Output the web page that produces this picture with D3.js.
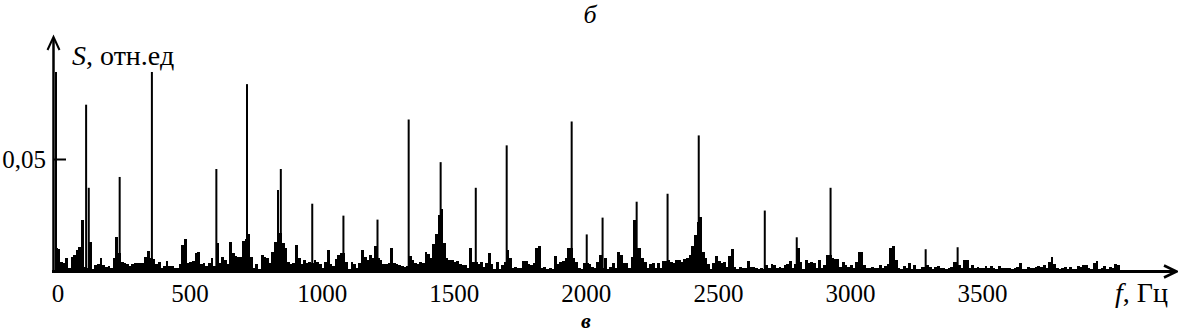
<!DOCTYPE html>
<html>
<head>
<meta charset="UTF-8">
<title>Спектр</title>
<script src="https://d3js.org/d3.v7.min.js"></script>
<style>
  body { margin: 0; background: #fff; }
  text { font-family: "Liberation Serif", "DejaVu Serif", serif; fill: #000; }
</style>
</head>
<body>
<div id="chart"></div>
<script>
// noise floor, one value per 10 Hz bin starting at 0 Hz
const floorStep = 10;
const floorValues = [
  .0099,.0095,.0036,.0032,.0054,.0010,.0059,.0068,.0090,.0104,
  .0225,.0015,.0010,.0126,.0005,.0023,.0027,.0054,.0023,.0014,
  .0020,.0009,.0054,.0149,.0077,.0036,.0030,.0027,.0020,.0025,
  .0030,.0032,.0032,.0030,.0059,.0086,.0054,.0050,.0027,.0034,
  .0009,.0020,.0041,.0018,.0018,.0009,.0009,.0027,.0113,.0140,
  .0032,.0036,.0041,.0077,.0081,.0025,.0030,.0020,.0030,.0054,
  .0020,.0122,.0030,.0059,.0045,.0027,.0126,.0077,.0063,.0059,
  .0059,.0131,.0140,.0162,.0059,.0009,.0027,.0005,.0068,.0060,
  .0054,.0032,.0081,.0126,.0360,.0167,.0120,.0099,.0036,.0027,
  .0030,.0113,.0054,.0025,.0045,.0030,.0036,.0030,.0045,.0036,
  .0027,.0009,.0036,.0090,.0025,.0020,.0050,.0068,.0077,.0077,
  .0036,.0005,.0036,.0025,.0009,.0030,.0090,.0059,.0045,.0068,
  .0054,.0108,.0054,.0045,.0025,.0025,.0032,.0099,.0030,.0025,
  .0023,.0018,.0014,.0020,.0063,.0045,.0030,.0027,.0036,.0030,
  .0081,.0072,.0054,.0117,.0162,.0250,.0275,.0122,.0054,.0045,
  .0045,.0036,.0041,.0025,.0023,.0023,.0009,.0099,.0036,.0036,
  .0026,.0038,.0015,.0030,.0075,.0026,.0003,.0038,.0003,.0023,
  .0038,.0090,.0056,.0008,.0015,.0011,.0008,.0041,.0041,.0026,
  .0023,.0030,.0100,.0110,.0008,.0015,.0003,.0011,.0003,.0063,
  .0026,.0038,.0041,.0056,.0098,.0098,.0056,.0038,.0008,.0003,
  .0030,.0030,.0026,.0015,.0011,.0038,.0068,.0008,.0056,.0003,
  .0015,.0030,.0008,.0083,.0068,.0030,.0030,.0008,.0060,.0225,
  .0098,.0098,.0056,.0038,.0008,.0026,.0030,.0011,.0030,.0008,
  .0041,.0041,.0045,.0038,.0030,.0045,.0045,.0038,.0049,.0056,
  .0068,.0110,.0160,.0218,.0240,.0083,.0053,.0026,.0003,.0030,
  .0064,.0041,.0030,.0038,.0015,.0064,.0094,.0015,.0003,.0015,
  .0011,.0008,.0041,.0015,.0015,.0008,.0003,.0011,.0003,.0023,
  .0008,.0026,.0023,.0008,.0015,.0011,.0023,.0026,.0041,.0011,
  .0026,.0098,.0038,.0003,.0045,.0030,.0038,.0030,.0011,.0045,
  .0011,.0023,.0068,.0070,.0056,.0049,.0049,.0015,.0038,.0023,
  .0015,.0023,.0011,.0038,.0083,.0083,.0023,.0008,.0011,.0015,
  .0011,.0008,.0023,.0011,.0020,.0026,.0098,.0110,.0045,.0011,
  .0003,.0020,.0011,.0030,.0003,.0023,.0003,.0006,.0015,.0015,
  .0023,.0015,.0006,.0015,.0020,.0011,.0008,.0003,.0008,.0015,
  .0038,.0038,.0023,.0008,.0045,.0045,.0008,.0023,.0011,.0015,
  .0008,.0011,.0020,.0008,.0020,.0008,.0003,.0020,.0008,.0011,
  .0011,.0008,.0006,.0011,.0015,.0030,.0006,.0003,.0015,.0008,
  .0011,.0015,.0020,.0015,.0023,.0008,.0038,.0060,.0026,.0008,
  .0003,.0011,.0015,.0006,.0015,.0003,.0003,.0020,.0015,.0023,
  .0023,.0011,.0006,.0030,.0040,.0003,.0011,.0020,.0006,.0015,
  .0011,.0026,.0023
];

// discrete spectral lines
const peakFreqs  = [0, 114, 124, 241, 363, 607, 723, 851, 970, 1088, 1217, 1335, 1456,
                    1589, 1706, 1952, 2009, 2069, 2198, 2315, 2433, 2683, 2804, 2932, 3292, 3413];
const peakValues = [.0896, .0748, .0372, .0421, .0896, .0457, .0841, .0457, .0300, .0246, .0228, .0681, .0488,
                    .0372, .0564, .0672, .0161, .0237, .0309, .0345, .0609, .0269, .0148, .0372, .0094, .0103];

const xTicks = [0, 500, 1000, 1500, 2000, 2500, 3000, 3500];
const yTicks = [0.05];
const yTickLabels = ["0,05"];

const width = 1178;
const height = 335;

const x = d3.scaleLinear().domain([0, 4000]).range([56, 1112.7]);
const y = d3.scaleLinear().domain([0, 0.05]).range([270, 159.5]);

const svg = d3.select("#chart")
  .append("svg")
  .attr("width", width)
  .attr("height", height);

// noise floor
const binW = x(floorStep) - x(0);
svg.append("g")
  .attr("shape-rendering", "crispEdges")
  .selectAll("rect")
  .data(floorValues)
  .enter()
  .append("rect")
  .attr("x", (d, i) => x(i * floorStep) - binW / 2)
  .attr("width", binW + 0.2)
  .attr("y", d => y(d))
  .attr("height", d => y(0) - y(d))
  .attr("fill", "#000");

// spectral lines
svg.append("g")
  .selectAll("rect")
  .data(peakFreqs)
  .enter()
  .append("rect")
  .attr("x", d => x(d) - 1)
  .attr("width", 2)
  .attr("y", (d, i) => y(peakValues[i]))
  .attr("height", (d, i) => y(0) - y(peakValues[i]))
  .attr("fill", "#000");

// axes
svg.append("line")
  .attr("x1", 53.5).attr("x2", 53.5)
  .attr("y1", 272).attr("y2", 38)
  .attr("stroke", "#000").attr("stroke-width", 2.5);
svg.append("path")
  .attr("d", "M47.5,50 L53.5,37 L59.5,50")
  .attr("fill", "none").attr("stroke", "#000").attr("stroke-width", 2);

svg.append("line")
  .attr("x1", 52).attr("x2", 1175)
  .attr("y1", 271.5).attr("y2", 271.5)
  .attr("stroke", "#000").attr("stroke-width", 3);
svg.append("path")
  .attr("d", "M1164,265.5 L1176.5,271.5 L1164,277.5")
  .attr("fill", "none").attr("stroke", "#000").attr("stroke-width", 2.5);

// y ticks
svg.selectAll(".ytick")
  .data(yTicks)
  .enter()
  .append("line")
  .attr("class", "ytick")
  .attr("x1", 54).attr("x2", 66)
  .attr("y1", d => y(d)).attr("y2", d => y(d))
  .attr("stroke", "#000").attr("stroke-width", 2);
svg.selectAll(".ylabel")
  .data(yTicks)
  .enter()
  .append("text")
  .attr("class", "ylabel")
  .attr("x", 46)
  .attr("y", d => y(d))
  .attr("dy", "0.35em")
  .attr("text-anchor", "end")
  .attr("font-size", 25)
  .text((d, i) => yTickLabels[i]);

// x tick labels
svg.selectAll(".xlabel")
  .data(xTicks)
  .enter()
  .append("text")
  .attr("class", "xlabel")
  .attr("x", d => x(d) + 2)
  .attr("y", 302)
  .attr("text-anchor", "middle")
  .attr("font-size", 25)
  .text(d => d);

// axis titles
const yTitle = svg.append("text").attr("x", 72).attr("y", 65).attr("font-size", 28);
yTitle.append("tspan").attr("font-style", "italic").text("S");
yTitle.append("tspan").text(", отн.ед");

const xTitle = svg.append("text").attr("x", 1115).attr("y", 302).attr("font-size", 28);
xTitle.append("tspan").attr("font-style", "italic").text("f");
xTitle.append("tspan").text(", Гц");

// panel letters
svg.append("text").attr("x", 590).attr("y", 23).attr("text-anchor", "middle")
  .attr("font-size", 26).attr("font-style", "italic").text("б");
svg.append("text").attr("x", 586).attr("y", 328).attr("text-anchor", "middle")
  .attr("font-size", 22).attr("font-style", "italic").attr("font-weight", "bold").text("в");
</script>
</body>
</html>
